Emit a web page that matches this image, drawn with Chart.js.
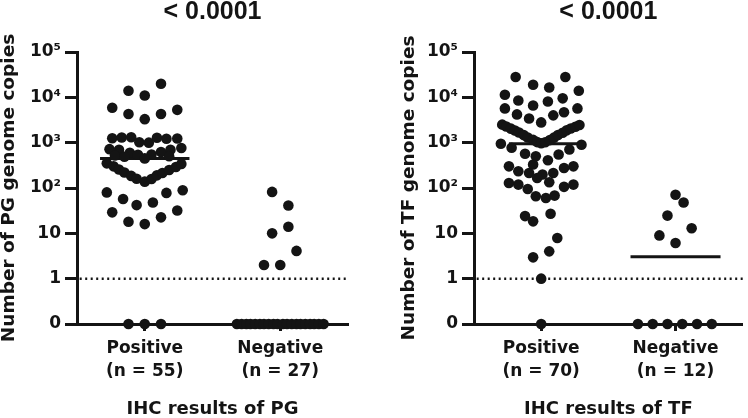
<!DOCTYPE html>
<html>
<head>
<meta charset="utf-8">
<script src="https://cdn.jsdelivr.net/npm/chart.js@4.4.0/dist/chart.umd.min.js"></script>
<style>
  body { margin: 0; background: #fff; width: 748px; height: 418px; overflow: hidden; position: relative; }
  canvas { position: absolute; top: 0; }
  #pgChart { left: 0; }
  #tfChart { left: 374px; }
</style>
</head>
<body>
<canvas id="pgChart" width="374" height="418"></canvas>
<canvas id="tfChart" width="374" height="418"></canvas>
<script>
// categories and tick labels
const categories = ["Positive", "Negative"];
const pgCounts = [55, 27];
const tfCounts = [70, 12];
const yTickValues = [0.1, 1, 10, 100, 1000, 10000, 100000];
const yTickLabels = ["0", "1", "10", "10²", "10³", "10⁴", "10⁵"];
const pValueText = "< 0.0001";
const cutoff = 1;

// PG: genome copies per sample (0 = none detected), with swarm offsets
const pgPositive = [
  20000, 14000, 11000, 5900, 5300, 4300, 4300, 3300,
  1250, 1300, 1320, 1020, 1000, 1280, 1220, 1240,
  720, 700, 600, 540, 545, 620, 700, 760,
  520, 490, 500,
  450,
  350, 300, 255, 220, 185, 160, 138, 158, 190, 215, 250, 290, 340,
  80, 57, 42, 48, 78, 89, 29, 18, 16, 22.5, 32,
  0, 0, 0
];
const pgPositiveOffsets = [
  0.12, -0.12, 0, -0.24, 0.24, -0.12, 0.12, 0,
  -0.24, -0.17, -0.10, -0.04, 0.03, 0.09, 0.16, 0.24,
  -0.26, -0.19, -0.11, -0.05, 0.05, 0.12, 0.19, 0.27,
  -0.22, -0.15, 0.18,
  0,
  -0.28, -0.23, -0.19, -0.15, -0.10, -0.06, 0, 0.05, 0.09, 0.13, 0.18, 0.23, 0.27,
  -0.28, -0.16, -0.06, 0.06, 0.16, 0.28, -0.24, -0.12, 0, 0.12, 0.24,
  -0.12, 0, 0.12
];
const pgNegative = [
  82, 41, 14, 10, 4.1, 2, 2,
  0, 0, 0, 0, 0, 0, 0, 0, 0, 0, 0, 0, 0, 0, 0, 0, 0, 0, 0, 0
];
const pgNegativeOffsets = [
  -0.06, 0.06, 0.06, -0.06, 0.12, -0.12, 0,
  -0.32, -0.285, -0.25, -0.22, -0.185, -0.15, -0.12, -0.085, -0.05, -0.02,
  0.02, 0.05, 0.085, 0.12, 0.15, 0.185, 0.22, 0.25, 0.285, 0.32
];
const pgMedians = [450, 0];

// TF
const tfPositive = [
  28000, 28000, 19000, 16500, 11400, 14000, 8500, 9500, 6600, 8100, 5700, 5700, 4200, 4700, 3400, 4000, 2800,
  2500, 2270, 2040, 1850, 1670, 1470, 1300, 1150, 1030, 970, 1020, 1140, 1290, 1480, 1650, 1870, 2050, 2250, 2450,
  950, 900,
  770, 710, 570, 550, 500, 410, 330, 300, 300, 234, 277, 214, 198, 214, 166, 129, 119, 119, 106, 95, 134,
  66, 60, 68, 24, 18.4, 27, 7.9, 4.0, 2.95, 1.0, 0
];
const tfPositiveOffsets = [
  -0.19, 0.18, -0.06, 0.06, -0.27, 0.28, -0.17, 0.16, -0.06, 0.05, -0.27, 0.27, -0.18, 0.17, -0.09, 0.09, 0,
  -0.29, -0.26, -0.225, -0.195, -0.165, -0.13, -0.10, -0.06, -0.03, 0, 0.03, 0.065, 0.095, 0.125, 0.16, 0.19, 0.22, 0.255, 0.285,
  -0.30, 0.30,
  -0.22, 0.21, -0.12, 0.13, -0.04, 0.05, -0.06, -0.24, 0.24, -0.17, 0.17, -0.09, 0.01, 0.09, -0.03, -0.24, 0.24, -0.17, 0.17, -0.10, 0.06,
  -0.04, 0.035, 0.10, -0.12, -0.06, 0.07, 0.12, 0.06, -0.06, 0, 0
];
const tfNegative = [71, 48, 24.6, 12.9, 9.0, 6.1, 0, 0, 0, 0, 0, 0];
const tfNegativeOffsets = [0, 0.06, -0.06, 0.12, -0.12, 0, -0.28, -0.17, -0.06, 0.05, 0.16, 0.27];
const tfMedians = [950, 3.05];

const INK = "#141414";
const AXIS_FONT = "'DejaVu Sans', sans-serif";
const TITLE_FONT = "'Liberation Sans', Arial, sans-serif";
const ZERO_AT = 0.1; // the "0" row sits one decade below 1

function toPoints(values, offsets, group) {
  return values.map((v, i) => ({ x: group + offsets[i], y: v === 0 ? ZERO_AT : v }));
}

function medianLine(value, group, half, shift) {
  const y = value === 0 ? ZERO_AT : value;
  return {
    type: "line",
    data: [{ x: group + shift - half, y: y }, { x: group + shift + half, y: y }],
    borderColor: INK, borderWidth: 3, pointRadius: 0, clip: false
  };
}

function makeChart(id, s) {
  const dots = {
    type: "scatter", pointRadius: 5.3, pointHoverRadius: 5.3,
    pointBackgroundColor: INK, pointBorderWidth: 0, clip: false
  };
  new Chart(document.getElementById(id), {
    type: "scatter",
    data: {
      datasets: [
        Object.assign({ data: toPoints(s.pos, s.posOff, 0) }, dots),
        Object.assign({ data: toPoints(s.neg, s.negOff, 1) }, dots),
        medianLine(s.medians[0], 0, s.halfWidths[0], s.shifts[0]),
        medianLine(s.medians[1], 1, s.halfWidths[1], s.shifts[1]),
        {
          type: "line",
          data: [{ x: -0.48, y: cutoff }, { x: 1.5, y: cutoff }],
          borderColor: INK, borderWidth: 2.5, borderDash: [2, 3.5],
          pointRadius: 0, clip: false
        }
      ]
    },
    options: {
      responsive: false, animation: false, devicePixelRatio: 1,
      layout: { padding: { left: 0, right: s.padRight, top: 0, bottom: 0 } },
      plugins: {
        legend: { display: false },
        tooltip: { enabled: false },
        title: {
          display: true, text: pValueText, fullSize: false, color: INK,
          font: { family: TITLE_FONT, size: 25, weight: "bold", lineHeight: 1 },
          padding: { top: 0, bottom: 27 }
        }
      },
      scales: {
        x: {
          type: "linear", min: -0.5, max: 1.5,
          afterBuildTicks: sc => { sc.ticks = categories.map((c, i) => ({ value: i })); },
          afterFit: sc => { sc.height = 94; },
          ticks: {
            autoSkip: false, maxRotation: 0, padding: 7, color: INK,
            font: { family: AXIS_FONT, size: 17, weight: "bold", lineHeight: 1.3 },
            callback: (v, i) => [categories[i], "(n = " + s.counts[i] + ")"]
          },
          grid: { drawOnChartArea: false, tickLength: 7, tickWidth: 3, tickColor: INK },
          border: { width: 3, color: INK },
          title: {
            display: true, text: s.xTitle, color: INK, padding: 0,
            font: { family: AXIS_FONT, size: 18, weight: "bold", lineHeight: 1 }
          }
        },
        y: {
          type: "logarithmic", min: 0.1, max: 100000,
          afterBuildTicks: sc => { sc.ticks = yTickValues.map(v => ({ value: v })); },
          afterFit: sc => { sc.width = s.yWidth; },
          ticks: {
            autoSkip: false, padding: 4, color: INK,
            font: { family: AXIS_FONT, size: 17, weight: "bold" },
            callback: (v, i) => yTickLabels[i]
          },
          grid: { drawOnChartArea: false, tickLength: 12, tickWidth: 3, tickColor: INK },
          border: { width: 3, color: INK },
          title: {
            display: true, text: s.yTitle, color: INK,
            padding: { top: s.yTitlePad, bottom: 0 },
            font: { family: AXIS_FONT, size: 18.5, weight: "bold", lineHeight: 1 }
          }
        }
      }
    }
  });
}

makeChart("pgChart", {
  pos: pgPositive, posOff: pgPositiveOffsets, neg: pgNegative, negOff: pgNegativeOffsets,
  medians: pgMedians, halfWidths: [0.33, 0.33], shifts: [0, 0], counts: pgCounts,
  xTitle: "IHC results of PG", yTitle: "Number of PG genome copies",
  yWidth: 77, yTitlePad: 0, padRight: 26
});

makeChart("tfChart", {
  pos: tfPositive, posOff: tfPositiveOffsets, neg: tfNegative, negOff: tfNegativeOffsets,
  medians: tfMedians, halfWidths: [0.28, 0.335], shifts: [0.04, 0], counts: tfCounts,
  xTitle: "IHC results of TF", yTitle: "Number of TF genome copies",
  yWidth: 100, yTitlePad: 26, padRight: 1
});
</script>
</body>
</html>
